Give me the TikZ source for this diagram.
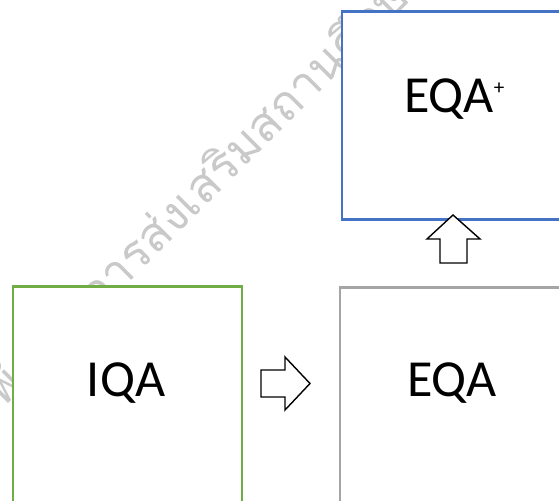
\documentclass[tikz,border=0pt]{standalone}
\usepackage{fontspec}
\setmainfont{Carlito}
\newfontfamily\thaifont[Script=Thai]{Loma}
\usepackage{tikz}
\usetikzlibrary{positioning}

\definecolor{boxgreen}{HTML}{70AD47}
\definecolor{boxblue}{HTML}{4472C4}
\definecolor{boxgray}{HTML}{A5A5A5}

\tikzset{
    qabox/.style={draw, rectangle, fill=white, line width=1.6pt, anchor=north west, inner sep=0pt},
    qalabel/.style={font=\fontsize{37}{44}\selectfont, inner sep=0pt},
    blockarrow/.style={draw, fill=white, line width=1pt, line join=miter}
}

\begin{document}
\begin{tikzpicture}
        \useasboundingbox (0,0) rectangle (13.975,12.5);
        \clip (0,0) rectangle (13.975,12.5);

        % Watermark
        \node[anchor=base west, rotate=45, text=black!21, inner sep=0pt, font=\thaifont\fontsize{34}{40}\selectfont] (mark) at (2.45,4.65) {\llap{พัฒนา}การส่งเสริมสถานศึกษา};

        % Boxes
        \node[qabox, draw=boxgreen, minimum width=5.725cm, minimum height=8cm] at (0.2875,5.3625) (iqa) {};
        \node[qabox, draw=boxgray, minimum width=6cm, minimum height=8cm] at (8.4625,5.3375) (eqa) {};
        \node[qabox, draw=boxblue, minimum width=6cm, minimum height=5.2cm] at (8.5125,12.2375) (eqaplus) {};

        % Labels
        \node[qalabel] at (3.15,2.925) (iqatext) {IQA};
        \node[qalabel] at (11.3,2.9125) (eqatext) {EQA};
        \node[qalabel] at (11.225,10.025) (eqaplustext) {EQA\rlap{\raisebox{0.45cm}{\fontsize{15}{15}\selectfont +}}};

        % Block arrows
        \draw[blockarrow] (6.525,3.25) -- (7.125,3.25) -- (7.125,3.575) -- (7.75,2.9125)
            -- (7.125,2.25) -- (7.125,2.575) -- (6.525,2.575) -- cycle;
        \draw[blockarrow] (11.0,5.925) -- (11.0,6.525) -- (10.675,6.525) -- (11.325,7.125)
            -- (12.0,6.525) -- (11.675,6.525) -- (11.675,5.925) -- cycle;
    \end{tikzpicture}
\end{document}
